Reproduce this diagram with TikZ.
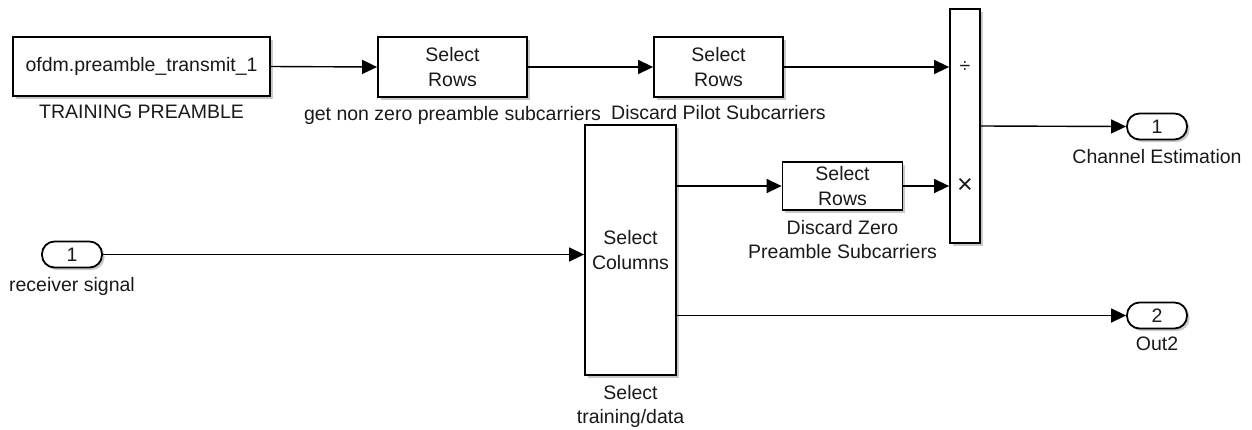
\documentclass[tikz,border=0pt]{standalone}
\usepackage{fontspec}
\setmainfont{Liberation Sans}
\usepackage{tikz}
\usetikzlibrary{arrows.meta,positioning,shadows}
\tikzstyle{block_normal} = [rectangle, draw, line width=1.8pt, fill=white, inner sep=0pt, align=center, drop shadow={shadow xshift=2.5pt, shadow yshift=-2.5pt, opacity=0.3, fill=black!70}]
\tikzstyle{port_normal} = [block_normal, rounded corners=12.5pt, minimum width=60pt, minimum height=26pt]
\tikzstyle{label_normal} = [inner sep=1pt, align=center]
\tikzstyle{edge_signal} = [line width=1.4pt, -{Triangle[length=15pt, width=14pt]}]

\begin{document}
\begin{tikzpicture}[x=1pt, y=-1pt, font=\fontsize{19.5}{24.5}\selectfont, text=black!90]
\useasboundingbox (0,0) rectangle (1252,429);

\node (pre) at (141.5,66.5) [block_normal, minimum width=257pt, minimum height=59pt] {ofdm.preamble\_transmit\_1};
\node (rowsA) at (452.5,67) [block_normal, minimum width=149pt, minimum height=60pt] {Select\\Rows};
\node (rowsB) at (718.5,67) [block_normal, minimum width=129pt, minimum height=60pt] {Select\\Rows};
\node (prod) at (965,126) [block_normal, minimum width=30pt, minimum height=234pt] {};
\node (cols) at (630.5,250) [block_normal, minimum width=91pt, minimum height=250pt] {Select\\Columns};
\node (rowsC) at (842.5,186) [block_normal, minimum width=120pt, minimum height=48pt] {Select\\Rows};
\node (in1) at (72,254.5) [port_normal] {1};
\node (out1) at (1157,126.5) [port_normal] {1};
\node (out2) at (1157,315.5) [port_normal] {2};

\node (div) at (965,67) {÷};
\node (mul) at (965,186) [font=\fontsize{27}{30}\selectfont] {×};

\node [label_normal, below=7pt of pre] {TRAINING PREAMBLE};
\node [label_normal, below=7pt of rowsA] {get non zero preamble subcarriers};
\node [label_normal, below=6pt of rowsB] {Discard Pilot Subcarriers};
\node [label_normal, below=8pt of rowsC] {Discard Zero\\Preamble Subcarriers};
\node [label_normal, below=8pt of cols] {Select\\training/data};
\node [label_normal, below=8pt of in1] {receiver signal};
\node [label_normal, below=8pt of out1] {Channel Estimation};
\node [label_normal, below=6pt of out2] {Out2};

\draw[edge_signal] (pre.east) -- (rowsA.west);
\draw[edge_signal] (rowsA.east) -- (rowsB.west);
\draw[edge_signal] (rowsB.east) -- (rowsB.east -| prod.west);
\draw[edge_signal] (rowsC.east) -- (rowsC.east -| prod.west);
\draw[edge_signal] (prod.east) -- (out1.west);
\draw[edge_signal] (in1.east) -- (in1.east -| cols.west);
\draw[edge_signal] (cols.east |- rowsC.west) -- (rowsC.west);
\draw[edge_signal] (cols.east |- out2.west) -- (out2.west);
\end{tikzpicture}
\end{document}
